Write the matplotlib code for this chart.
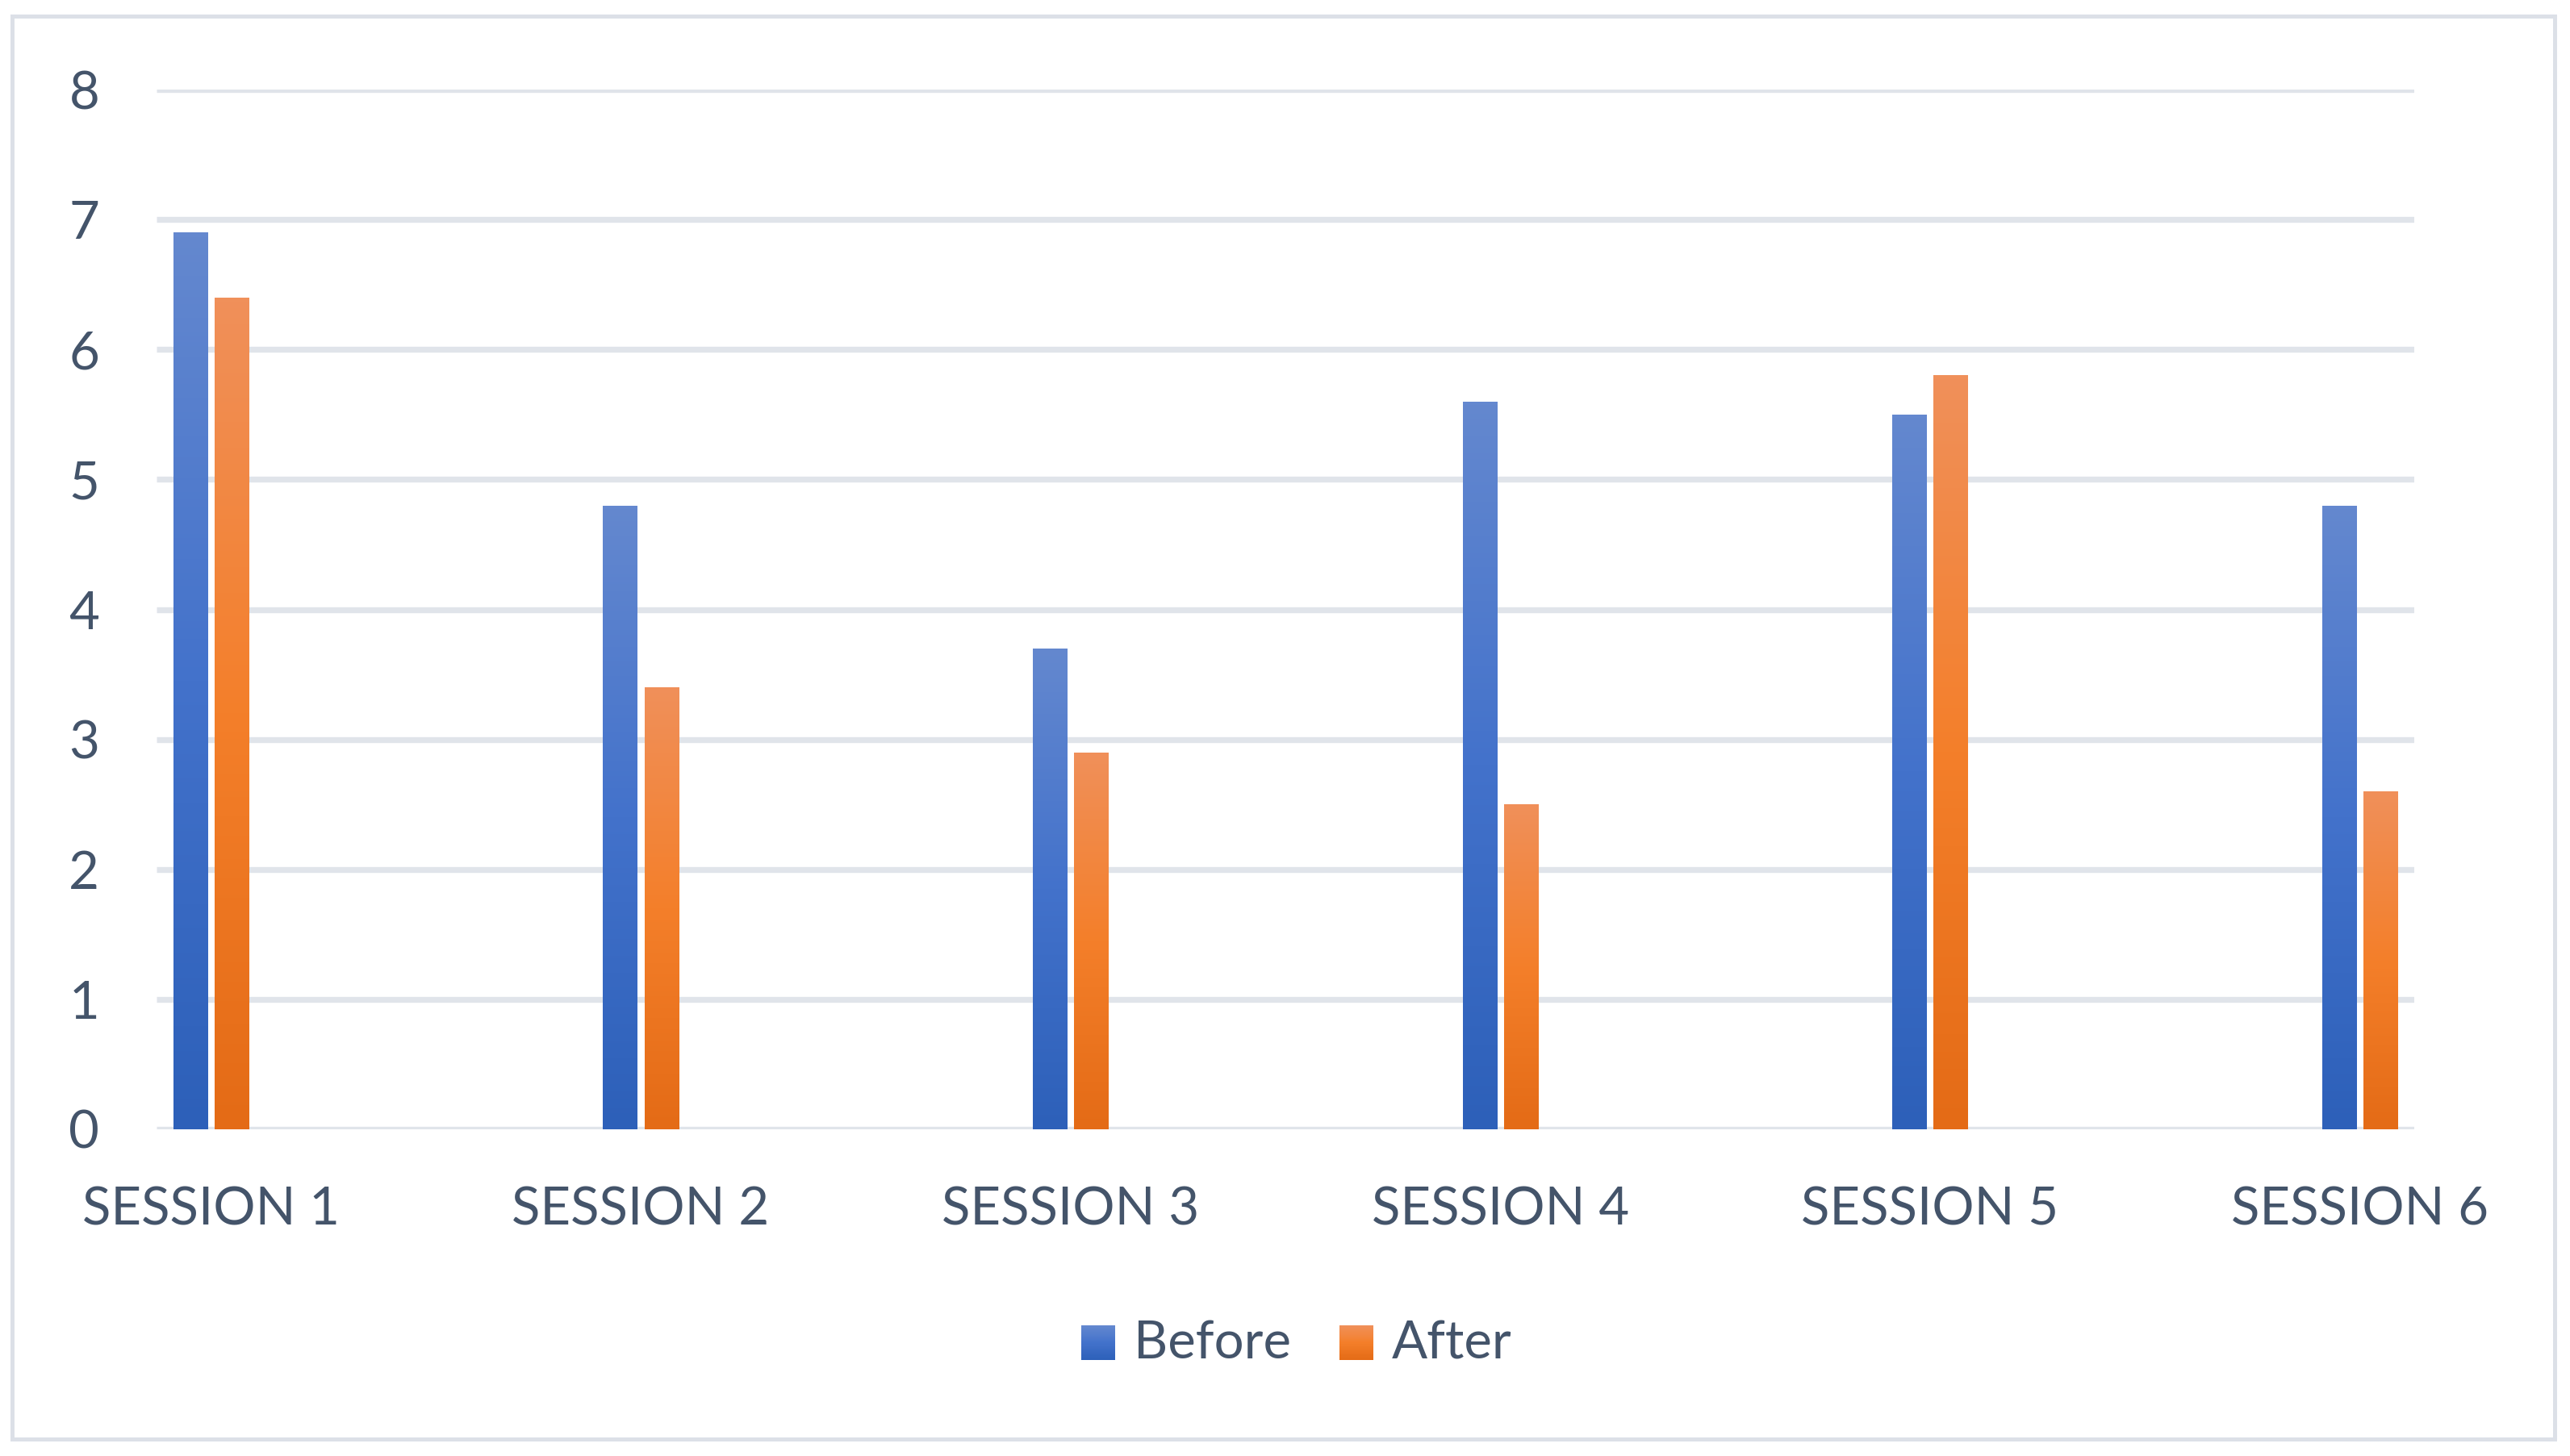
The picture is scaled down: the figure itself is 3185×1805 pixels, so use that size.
import numpy as np
import matplotlib
matplotlib.use('Agg')
import matplotlib.pyplot as plt
from matplotlib.colors import LinearSegmentedColormap
from matplotlib.patches import Rectangle, Patch

sessions = ['SESSION 1', 'SESSION 2', 'SESSION 3', 'SESSION 4', 'SESSION 5', 'SESSION 6']
before = [6.9, 4.8, 3.7, 5.6, 5.5, 4.8]
after = [6.4, 3.4, 2.9, 2.5, 5.8, 2.6]
y_ticks = [0, 1, 2, 3, 4, 5, 6, 7, 8]

text_color = '#44546A'
grid_color = '#E0E4EA'
# градиенты: низ -> середина -> верх
blue_cmap = LinearSegmentedColormap.from_list('blue', ['#2D60B9', '#4372CB', '#6488CF'])
orange_cmap = LinearSegmentedColormap.from_list('orange', ['#E46B16', '#F47F2A', '#F0905A'])

plt.rcParams['font.family'] = ['Lato', 'DejaVu Sans']
plt.rcParams['lines.solid_capstyle'] = 'butt'

W, H = 3185, 1805
fig = plt.figure(figsize=(W / 100, H / 100), dpi=100)
ax = fig.add_axes([194 / W, 1 - 1400 / H, (2992 - 194) / W, (1400 - 111) / H])

x = np.arange(len(sessions))
bw = 0.079
off = 0.048
bars_b = ax.bar(x - off, before, bw, color='none', zorder=3)
bars_a = ax.bar(x + off, after, bw, color='none', zorder=3)

grad = np.linspace(1, 0, 256).reshape(-1, 1)
for bars, cmap in [(bars_b, blue_cmap), (bars_a, orange_cmap)]:
    for b in bars:
        x0, w, h = b.get_x(), b.get_width(), b.get_height()
        im = ax.imshow(grad, cmap=cmap, extent=[x0, x0 + w, 0, h], aspect='auto',
                       interpolation='bicubic', zorder=3, vmin=0, vmax=1)
        im.set_clip_path(b)

ax.set_xlim(-0.1267, len(sessions) - 1 + 0.1267)
ax.set_ylim(0, 8)
ax.set_yticks(y_ticks)
ax.set_xticks(x)
ax.set_xticklabels(sessions)
ax.tick_params(axis='both', length=0, labelsize=47, labelcolor=text_color)
ax.tick_params(axis='y', pad=51)
ax.tick_params(axis='x', pad=51)
for s in ax.spines.values():
    s.set_visible(False)
ax.yaxis.grid(True, color=grid_color, linewidth=5.3)
ax.set_axisbelow(True)


class GradientHandler:
    def __init__(self, cmap):
        self.cmap = cmap

    def legend_artist(self, legend, orig_handle, fontsize, handlebox):
        x0, y0 = handlebox.xdescent, handlebox.ydescent
        w, h = handlebox.width, handlebox.height
        n = 40
        r = None
        for i in range(n):
            r = Rectangle((x0, y0 + h * i / n), w, h / n * 1.05,
                          facecolor=self.cmap(i / (n - 1)), edgecolor='none',
                          transform=handlebox.get_transform())
            handlebox.add_artist(r)
        return r


h_b = Patch(label='Before')
h_a = Patch(label='After')
leg = fig.legend(handles=[h_b, h_a], loc='center', bbox_to_anchor=(1607 / W, 1 - 1666 / H),
                 ncol=2, frameon=False, fontsize=47, handlelength=0.64, handleheight=0.64,
                 handletextpad=0.35, columnspacing=0.93, borderpad=0,
                 handler_map={h_b: GradientHandler(blue_cmap), h_a: GradientHandler(orange_cmap)})
for t in leg.get_texts():
    t.set_color(text_color)

# рамка вокруг диаграммы
fig.patches.append(Rectangle((14.5 / W, 1 - 1784 / H), (3166 - 14.5) / W, (1784 - 19.5) / H,
                             transform=fig.transFigure, fill=False, edgecolor='#DCE0E7',
                             linewidth=3.6))

fig.savefig('out.png', dpi=100, facecolor='white')
